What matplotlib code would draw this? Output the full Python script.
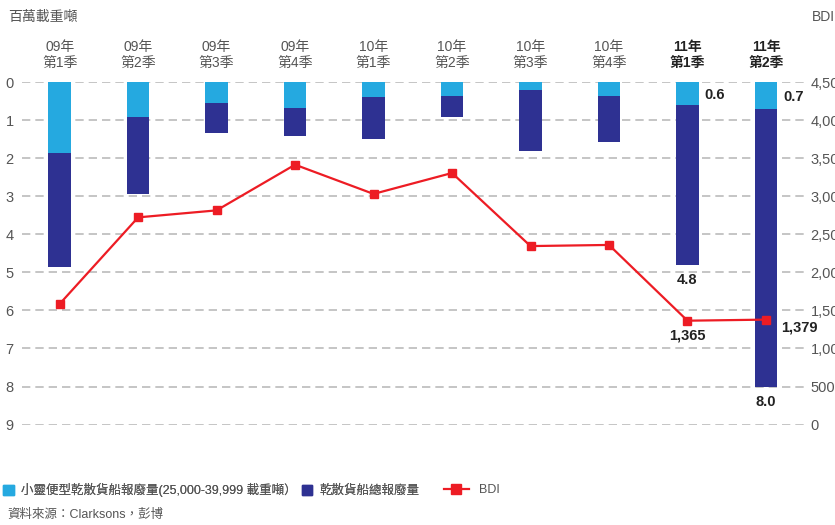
import matplotlib
matplotlib.use("Agg")
import matplotlib.pyplot as plt
from matplotlib.lines import Line2D
from matplotlib.patches import Patch
from matplotlib.ticker import FuncFormatter

plt.rcParams['font.family'] = ['Liberation Sans', 'Noto Sans CJK TC', 'DejaVu Sans']

quarters = ['09年\n第1季', '09年\n第2季', '09年\n第3季', '09年\n第4季',
            '10年\n第1季', '10年\n第2季', '10年\n第3季', '10年\n第4季',
            '11年\n第1季', '11年\n第2季']
handysize = [1.87, 0.92, 0.56, 0.68, 0.39, 0.37, 0.21, 0.37, 0.6, 0.7]
total = [4.86, 2.93, 1.33, 1.41, 1.50, 0.92, 1.81, 1.58, 4.8, 8.0]
bdi = [1585, 2722, 2814, 3414, 3030, 3305, 2345, 2360, 1365, 1379]

light_blue = '#25A9E0'
dark_blue = '#2E3192'
red = '#ED1C24'
grey = '#555555'

fig = plt.figure(figsize=(8.35, 5.25), dpi=100)
ax = fig.add_axes([0.0263, 0.1912, 0.938, 0.6526])
ax2 = ax.twinx()
ax.set_zorder(ax2.get_zorder() - 1)
ax.patch.set_visible(False)

x = list(range(len(quarters)))
ax.bar(x, total, width=0.29, color=dark_blue, zorder=3)
ax.bar(x, handysize, width=0.29, color=light_blue, zorder=4)
ax.set_ylim(9, 0)
ax.set_xlim(-0.48, 9.5)
ax.set_yticks(range(10))
ax.yaxis.grid(True, linestyle=(0, (5, 3)), color='#bbbbbb', linewidth=1.2, zorder=0)
ax.tick_params(axis='y', length=0, pad=6, labelsize=10.5, labelcolor=grey)

ax.xaxis.tick_top()
ax.set_xticks(x)
ax.set_xticklabels(quarters, linespacing=1.15)
ax.tick_params(axis='x', length=0, pad=9, labelsize=10, labelcolor=grey)
for lbl in ax.get_xticklabels()[-2:]:
    lbl.set_fontweight('bold')
    lbl.set_color('#222222')

ax2.plot(x, bdi, color=red, linewidth=1.6, marker='s', markersize=6, zorder=5)
ax2.set_ylim(0, 4500)
ax2.set_yticks(range(0, 4501, 500))
ax2.yaxis.set_major_formatter(FuncFormatter(lambda v, p: f'{int(v):,}'))
ax2.tick_params(axis='y', length=0, pad=4, labelsize=10.5, labelcolor=grey)

for a in (ax, ax2):
    for s in a.spines.values():
        s.set_visible(False)

# data labels for the last two quarters
lab = dict(fontsize=10.5, fontweight='bold', color='#222222', textcoords='offset points')
for i in (8, 9):
    ax.annotate(f'{handysize[i]:.1f}', (i + 0.22, handysize[i] / 2), ha='left', va='center', xytext=(0, -1), **lab)
    ax.annotate(f'{total[i]:.1f}', (i, total[i]), ha='center', va='center', xytext=(0, -11), **lab)
ax2.annotate(f'{bdi[8]:,}', (8, bdi[8]), ha='center', va='center', xytext=(0, -11), **lab)
ax2.annotate(f'{bdi[9]:,}', (9, bdi[9]), ha='left', va='center', xytext=(11, -6), **lab)

fig.text(8 / 835, 1 - 17 / 525, '百萬載重噸', fontsize=10, color=grey, va='center', ha='left')
fig.text(812 / 835, 1 - 17 / 525, 'BDI', fontsize=10, color=grey, va='center', ha='left')

leg1 = fig.legend(handles=[Patch(color=light_blue, label='小靈便型乾散貨船報廢量(25,000-39,999 載重噸）'),
                           Patch(color=dark_blue, label='乾散貨船總報廢量')],
                  loc='center left', bbox_to_anchor=(3 / 835, 1 - 490 / 525), ncol=2, frameon=False,
                  handlelength=0.85, handleheight=0.85, handletextpad=0.6, columnspacing=0.4,
                  fontsize=9, borderpad=0, borderaxespad=0)
for t in leg1.get_texts():
    t.set_color(grey)
    t.set_fontweight('light')
fig.add_artist(leg1)
leg2 = fig.legend(handles=[Line2D([], [], color=red, linewidth=1.6, marker='s', markersize=7, label='BDI')],
                  loc='center left', bbox_to_anchor=(444 / 835, 1 - 490 / 525), frameon=False,
                  handlelength=2.0, handletextpad=0.8, fontsize=9, borderpad=0, borderaxespad=0)
for t in leg2.get_texts():
    t.set_color(grey)

fig.text(7 / 835, 1 - 515 / 525, '資料來源：Clarksons，彭博', fontsize=9, color=grey, va='center', ha='left',
         fontweight='light')

fig.savefig('out.png', dpi=100)
